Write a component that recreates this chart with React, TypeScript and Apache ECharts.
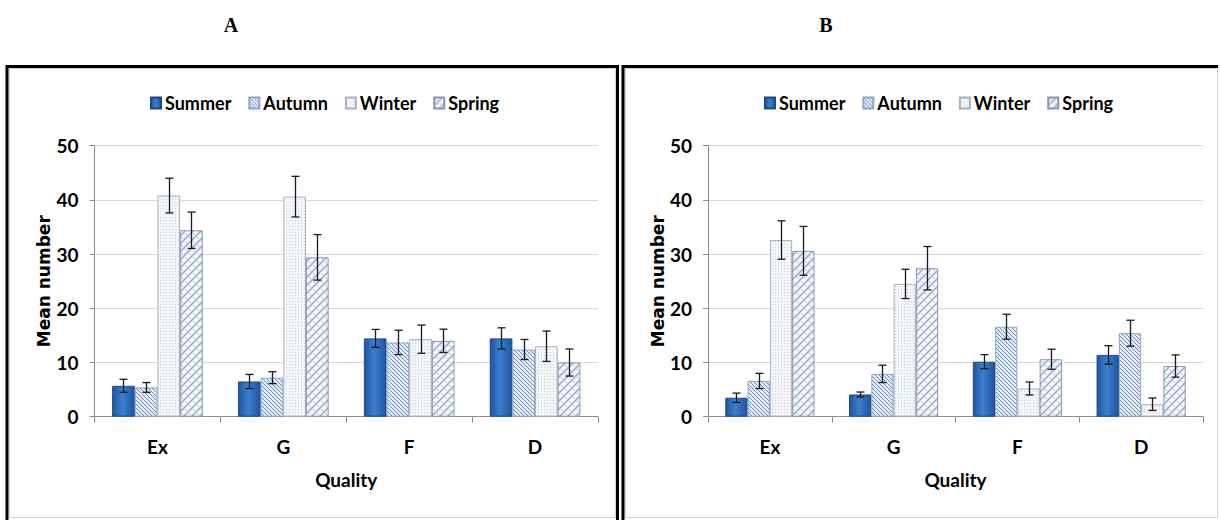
import React, { useEffect, useRef } from "react";
import * as echarts from "echarts";

const categories = ["Ex", "G", "F", "D"];
const seasons = ["Summer", "Autumn", "Winter", "Spring"];

// Panel A means and errors (per season, per category)
const meansA = {
  Summer: [5.7, 6.5, 14.45, 14.45],
  Autumn: [5.4, 7.2, 13.7, 12.4],
  Winter: [40.8, 40.6, 14.3, 13.0],
  Spring: [34.4, 29.4, 14.0, 10.0],
};
const errA = {
  Summer: [1.2, 1.3, 1.65, 1.95],
  Autumn: [0.9, 1.1, 2.25, 1.85],
  Winter: [3.2, 3.75, 2.6, 2.8],
  Spring: [3.35, 4.2, 2.15, 2.5],
};
// Panel B
const meansB = {
  Summer: [3.5, 4.1, 10.15, 11.4],
  Autumn: [6.6, 7.9, 16.6, 15.4],
  Winter: [32.6, 24.5, 5.2, 2.3],
  Spring: [30.6, 27.4, 10.6, 9.35],
};
const errB = {
  Summer: [0.85, 0.45, 1.3, 1.7],
  Autumn: [1.4, 1.6, 2.3, 2.4],
  Winter: [3.55, 2.7, 1.2, 1.15],
  Spring: [4.5, 4.0, 1.85, 2.05],
};
const yTicks = { min: 0, max: 50, interval: 10 };

const CAT_GAP = 0.28;
const LABEL_FONT = "Lato, 'Open Sans', sans-serif";

function makePattern(w: number, h: number, draw: (ctx: CanvasRenderingContext2D) => void) {
  const c = document.createElement("canvas");
  c.width = w;
  c.height = h;
  const ctx = c.getContext("2d") as CanvasRenderingContext2D;
  draw(ctx);
  return { image: c, repeat: "repeat", imageWidth: w, imageHeight: h } as any;
}

function buildStyles() {
  const summer = {
    color: new echarts.graphic.LinearGradient(0, 0, 1, 0, [
      { offset: 0, color: "#1f559e" },
      { offset: 0.45, color: "#3a7fcf" },
      { offset: 1, color: "#1f559e" },
    ]),
    borderColor: "#1d4a86",
    borderWidth: 1,
  };
  const autumn = {
    color: makePattern(4, 4, (ctx) => {
      ctx.fillStyle = "#e3ecf7";
      ctx.fillRect(0, 0, 4, 4);
      ctx.strokeStyle = "#6b8cc0";
      ctx.lineWidth = 1;
      for (let k = -1; k <= 1; k++) {
        ctx.beginPath();
        ctx.moveTo(k * 4, 0);
        ctx.lineTo(k * 4 + 4, 4);
        ctx.stroke();
      }
    }),
    borderColor: "#8ea5c7",
    borderWidth: 1,
  };
  const winter = {
    color: makePattern(3, 3, (ctx) => {
      ctx.fillStyle = "#f4f6fa";
      ctx.fillRect(0, 0, 3, 3);
      ctx.fillStyle = "#c9cfd9";
      ctx.fillRect(1, 1, 1, 1);
    }),
    borderColor: "#a9b1bd",
    borderWidth: 1,
  };
  const spring = {
    color: makePattern(8, 8, (ctx) => {
      ctx.fillStyle = "#f5f8fc";
      ctx.fillRect(0, 0, 8, 8);
      ctx.strokeStyle = "#9cb1d2";
      ctx.lineWidth = 1.6;
      for (let k = -1; k <= 1; k++) {
        ctx.beginPath();
        ctx.moveTo(k * 8, 8);
        ctx.lineTo(k * 8 + 8, 0);
        ctx.stroke();
      }
      ctx.strokeStyle = "#b7c6dd";
      ctx.lineWidth = 1;
      for (let k = -1; k <= 1; k++) {
        ctx.beginPath();
        ctx.moveTo(k * 8, 0);
        ctx.lineTo(k * 8 + 8, 8);
        ctx.stroke();
      }
    }),
    borderColor: "#8a98ad",
    borderWidth: 1,
  };
  return { Summer: summer, Autumn: autumn, Winter: winter, Spring: spring } as Record<string, any>;
}

function errorRenderItem(params: any, api: any) {
  const ci = api.value(0);
  const v = api.value(1);
  const e = api.value(2);
  const s = api.value(3);
  const band = api.size([1, 0])[0];
  const bw = (band * (1 - CAT_GAP)) / 4;
  const base = api.coord([ci, v]);
  const cx = Math.round(base[0] + (s - 1.5) * bw) + 0.5;
  const yTop = api.coord([ci, v + e])[1];
  const yBot = api.coord([ci, v - e])[1];
  const cap = 4;
  const style = { stroke: "#1a1a1a", lineWidth: 1.3 };
  return {
    type: "group",
    children: [
      { type: "line", shape: { x1: cx, y1: yTop, x2: cx, y2: yBot }, style },
      { type: "line", shape: { x1: cx - cap, y1: yTop, x2: cx + cap, y2: yTop }, style },
      { type: "line", shape: { x1: cx - cap, y1: yBot, x2: cx + cap, y2: yBot }, style },
    ],
  };
}

function errorData(means: Record<string, number[]>, errs: Record<string, number[]>) {
  const out: number[][] = [];
  seasons.forEach((s, si) => {
    categories.forEach((_, ci) => {
      out.push([ci, means[s][ci], errs[s][ci], si]);
    });
  });
  return out;
}

export default function App() {
  const ref = useRef<HTMLDivElement>(null);
  useEffect(() => {
    if (!ref.current) return;
    const chart = echarts.init(ref.current, undefined, { renderer: "svg" });
    const styles = buildStyles();
    const panels = [
      { left: 94.5, width: 503.5, legendLeft: 145, means: meansA, errs: errA },
      { left: 708, width: 495, legendLeft: 759, means: meansB, errs: errB },
    ];
    const grids = panels.map((p) => ({ left: p.left, width: p.width, top: 145.7, height: 271 }));
    const xAxes = panels.map((_, i) => ({
      type: "category",
      gridIndex: i,
      data: categories,
      name: "Quality",
      nameLocation: "middle",
      nameGap: 53,
      nameTextStyle: { fontFamily: LABEL_FONT, fontWeight: "bold", fontSize: 19, color: "#000" },
      axisLine: { lineStyle: { color: "#8c8c8c", width: 1 } },
      axisTick: { show: true, length: 6, lineStyle: { color: "#8c8c8c" } },
      axisLabel: { margin: 20, fontFamily: LABEL_FONT, fontWeight: "bold", fontSize: 19, color: "#000" },
    }));
    const yAxes = panels.map((_, i) => ({
      type: "value",
      gridIndex: i,
      min: yTicks.min,
      max: yTicks.max,
      interval: yTicks.interval,
      name: "Mean number",
      nameLocation: "middle",
      nameRotate: 90,
      nameGap: 42,
      nameTextStyle: { fontFamily: "'DejaVu Sans', sans-serif", fontWeight: "bold", fontSize: 17, color: "#000" },
      axisLine: { show: true, lineStyle: { color: "#8c8c8c", width: 1 } },
      axisTick: { show: true, length: 5, lineStyle: { color: "#8c8c8c" } },
      splitLine: { show: true, lineStyle: { color: "#d9d9d9", width: 1 } },
      axisLabel: { margin: 16, fontFamily: LABEL_FONT, fontWeight: "bold", fontSize: 19, color: "#000" },
    }));
    const series: any[] = [];
    panels.forEach((p, pi) => {
      seasons.forEach((s) => {
        series.push({
          type: "bar",
          name: s,
          xAxisIndex: pi,
          yAxisIndex: pi,
          data: p.means[s as keyof typeof p.means],
          barGap: "0%",
          barCategoryGap: CAT_GAP * 100 + "%",
          itemStyle: styles[s],
          emphasis: { disabled: true },
        });
      });
      series.push({
        type: "custom",
        name: "err" + pi,
        xAxisIndex: pi,
        yAxisIndex: pi,
        renderItem: errorRenderItem,
        data: errorData(p.means as any, p.errs as any),
        encode: { x: 0, y: 1 },
        z: 10,
        silent: true,
      });
    });
    const legends = panels.map((p) => ({
      data: seasons,
      left: p.legendLeft,
      top: 89,
      icon: "rect",
      itemWidth: 10,
      itemHeight: 11,
      itemGap: 17,
      selectedMode: false,
      textStyle: { fontFamily: LABEL_FONT, fontWeight: "bold", fontSize: 18, color: "#000", padding: [0, 0, 0, -1] },
    }));
    chart.setOption({
      animation: false,
      backgroundColor: "#fff",
      grid: grids,
      xAxis: xAxes,
      yAxis: yAxes,
      legend: legends,
      series,
      graphic: [
        { type: "rect", shape: { x: 9.5, y: 68.5, width: 606, height: 449 }, style: { fill: "none", stroke: "#d4d4d4", lineWidth: 1 } },
        { type: "rect", shape: { x: 625.5, y: 68.5, width: 592, height: 449 }, style: { fill: "none", stroke: "#d4d4d4", lineWidth: 1 } },
        { type: "polyline", shape: { points: [[7, 521], [7, 66.5], [617.5, 66.5], [617.5, 521]] }, style: { fill: "none", stroke: "#000", lineWidth: 3 } },
        { type: "polyline", shape: { points: [[623, 521], [623, 66.5], [1218, 66.5]] }, style: { fill: "none", stroke: "#000", lineWidth: 3 } },
        { type: "text", x: 231, y: 25, style: { text: "A", fontFamily: "'Liberation Serif', serif", fontWeight: "bold", fontSize: 20, fill: "#000", align: "center", verticalAlign: "middle" } },
        { type: "text", x: 826, y: 25, style: { text: "B", fontFamily: "'Liberation Serif', serif", fontWeight: "bold", fontSize: 20, fill: "#000", align: "center", verticalAlign: "middle" } },
      ],
    });
    return () => chart.dispose();
  }, []);
  return <div ref={ref} style={{ position: "fixed", left: 0, top: 0, width: 1220, height: 520 }} />;
}
